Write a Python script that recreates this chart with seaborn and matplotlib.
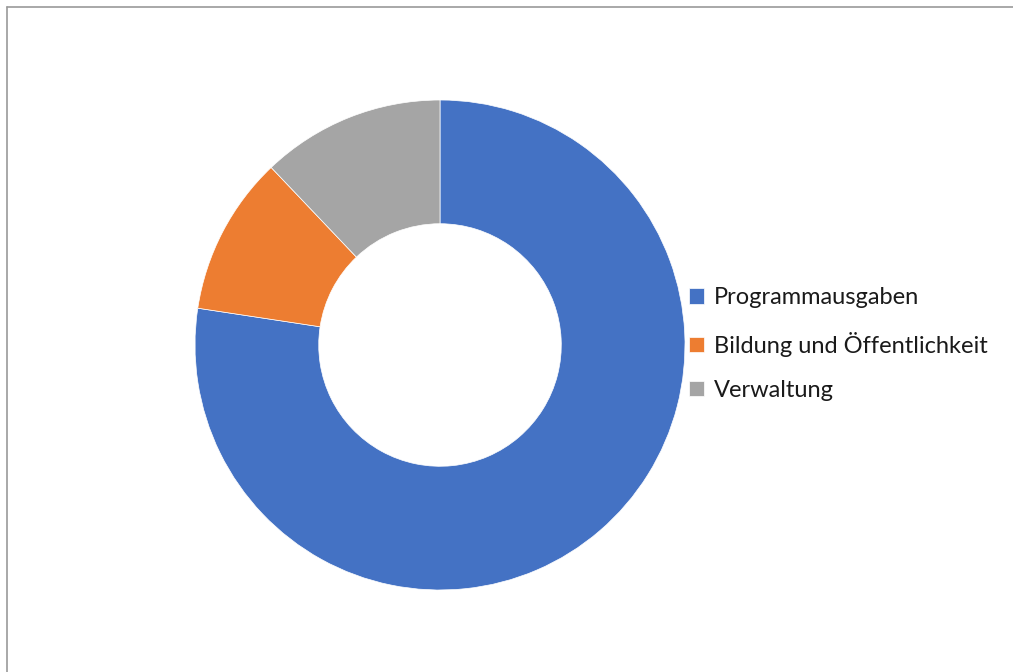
import matplotlib
matplotlib.use("Agg")
import matplotlib.pyplot as plt
import matplotlib.lines as mlines
import seaborn as sns

categories = ["Programmausgaben", "Bildung und Öffentlichkeit", "Verwaltung"]
values = [77.4, 10.5, 12.1]
colors = ["#4472C4", "#ED7D31", "#A5A5A5"]

sns.set_theme(style="white")
plt.rcParams['font.family'] = ['Lato', 'DejaVu Sans']

W, H = 1013, 672
fig = plt.figure(figsize=(W / 100, H / 100), dpi=100)
fig.patch.set_facecolor("white")

# pie axes: center (440,345), radius 245 px
cx, cy, r = 440, 345, 245
ax = fig.add_axes([(cx - r) / W, (H - cy - r) / H, 2 * r / W, 2 * r / H])
wedges, _ = ax.pie(values, colors=colors, startangle=90, counterclock=False,
                   radius=1.0, wedgeprops=dict(width=0.505, edgecolor="white", linewidth=0.5))
ax.set_xlim(-1, 1)
ax.set_ylim(-1, 1)
ax.set_aspect("equal")
ax.axis("off")

leg = fig.legend(wedges, categories, loc="upper left",
                 bbox_to_anchor=(680 / W, 1 - 278 / H), frameon=False,
                 fontsize=17, handlelength=0.62, handleheight=0.62,
                 handletextpad=0.4, labelspacing=0.98, borderaxespad=0)
for t in leg.get_texts():
    t.set_color("#1a1a1a")

# outer frame lines (top and left)
fig.add_artist(mlines.Line2D([7 / W, 1], [1 - 7 / H, 1 - 7 / H], color="#9a9a9a", lw=1.2, transform=fig.transFigure))
fig.add_artist(mlines.Line2D([7 / W, 7 / W], [0, 1 - 7 / H], color="#9a9a9a", lw=1.2, transform=fig.transFigure))

fig.savefig("out.png", dpi=100, facecolor="white")
